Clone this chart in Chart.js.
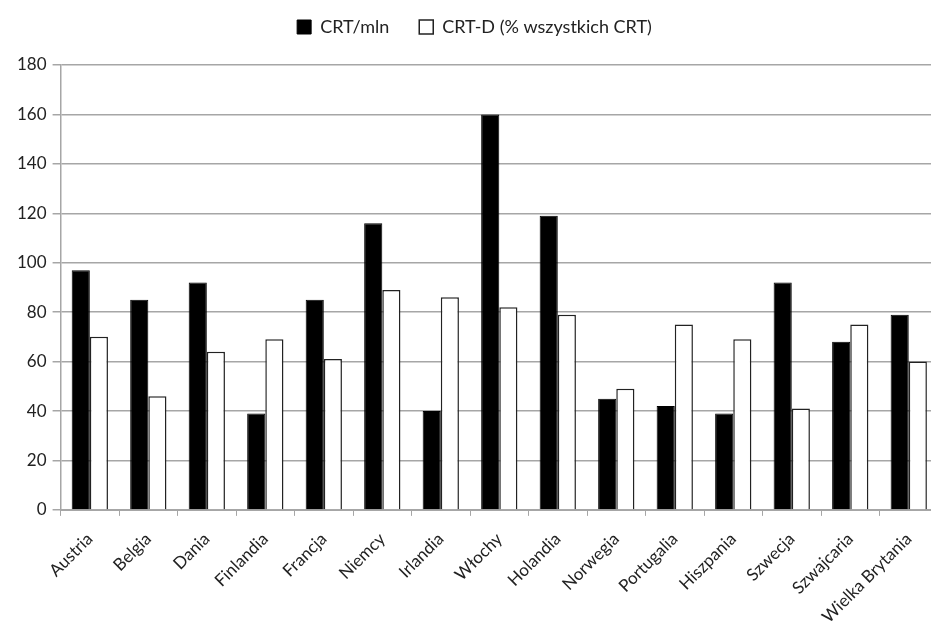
<!DOCTYPE html>
<html>
<head>
<meta charset="utf-8">
<script src="https://cdn.jsdelivr.net/npm/chart.js@4/dist/chart.umd.min.js"></script>
<style>
    body { margin: 0; overflow: hidden; background: #fff; }
    #wrap { width: 940px; height: 631px; }
</style>
</head>
<body>
<div id="wrap"><canvas id="chart" width="940" height="631"></canvas></div>
<script>
/* ------------------ DATA ------------------ */
const countries = ["Austria", "Belgia", "Dania", "Finlandia", "Francja", "Niemcy", "Irlandia", "Włochy",
    "Holandia", "Norwegia", "Portugalia", "Hiszpania", "Szwecja", "Szwajcaria", "Wielka Brytania"];
const crtPerMln = [97, 85, 92, 39, 85, 116, 40, 160, 119, 45, 42, 39, 92, 68, 79];
const crtDShare = [70, 46, 64, 69, 61, 89, 86, 82, 79, 49, 75, 69, 41, 75, 60];
const yTicks = [0, 20, 40, 60, 80, 100, 120, 140, 160, 180];

const font = "Lato, 'Open Sans', sans-serif";
const gridColor = "#a6a6a6";

// extra room under the legend
const legendSpacing = {
    id: "legendSpacing",
    beforeInit(chart) {
        const fit = chart.legend.fit;
        chart.legend.fit = function () {
            fit.call(this);
            this.height += 19;
        };
    }
};

/* ------------------ CHART ------------------ */
const ctx = document.getElementById("chart").getContext("2d");

new Chart(ctx, {
    type: "bar",
    data: {
        labels: countries,
        datasets: [{
            label: "CRT/mln",
            data: crtPerMln,
            backgroundColor: "#000",
            borderColor: "#000",
            borderWidth: 1
        }, {
            label: "CRT-D (% wszystkich CRT)",
            data: crtDShare,
            backgroundColor: "#fff",
            borderColor: "#222",
            borderWidth: 1.5
        }]
    },
    plugins: [legendSpacing],
    options: {
        responsive: false,
        animation: false,
        layout: { padding: { top: -12, left: 11, right: 2, bottom: -9 } },
        plugins: {
            tooltip: { enabled: false },
            legend: {
                position: "top",
                labels: {
                    color: "#222",
                    font: { family: font, size: 18 },
                    boxWidth: 14,
                    boxHeight: 14,
                    padding: 30
                }
            }
        },
        datasets: {
            bar: { categoryPercentage: 0.62, barPercentage: 1.0 }
        },
        scales: {
            x: {
                grid: {
                    display: true,
                    offset: true,
                    drawOnChartArea: false,
                    color: gridColor,
                    tickLength: 6
                },
                border: { color: gridColor, width: 2 },
                ticks: {
                    color: "#222",
                    font: { family: font, size: 17 },
                    minRotation: 45,
                    maxRotation: 45,
                    autoSkip: false,
                    padding: 13
                }
            },
            y: {
                min: 0,
                max: 180,
                afterBuildTicks: axis => { axis.ticks = yTicks.map(v => ({ value: v })); },
                grid: { color: gridColor, lineWidth: 1.5, tickLength: 8 },
                border: { color: gridColor, width: 1.5 },
                ticks: {
                    color: "#222",
                    font: { family: font, size: 17 },
                    padding: 6
                }
            }
        }
    }
});
</script>
</body>
</html>
